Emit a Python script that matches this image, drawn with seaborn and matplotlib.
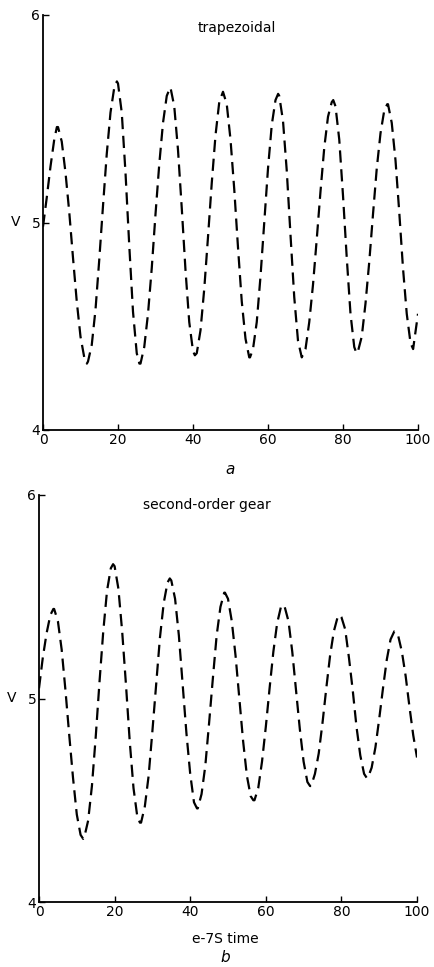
import matplotlib
matplotlib.use("Agg")
import matplotlib.pyplot as plt
import seaborn as sns
import pandas as pd

# ---- data ----
t_trap = [0, 1, 2, 3, 3.7, 4, 5, 6, 7, 8, 9, 10, 11, 11.7, 12, 13, 14, 15, 16, 17, 18, 19, 19.7,
          20, 21, 22, 23, 24, 25, 25.7, 26, 27, 28, 29, 30, 31, 32, 33, 33.9, 34, 35, 36, 37, 38,
          39, 40, 40.5, 41, 42, 43, 44, 45, 46, 47, 48, 49, 50, 51, 52, 53, 54, 55, 55.2, 56, 57,
          58, 59, 60, 61, 62, 62.7, 63, 64, 65, 66, 67, 68, 69, 70, 71, 72, 73, 74, 75, 76, 77,
          77.4, 78, 79, 80, 81, 82, 83, 83.6, 84, 85, 86, 87, 88, 89, 90, 91, 91.8, 92, 93, 94,
          95, 96, 97, 98, 98.7, 99, 100]
v_trap = [4.98, 5.12, 5.27, 5.40, 5.46, 5.46, 5.39, 5.24, 5.05, 4.83, 4.62, 4.45, 4.35, 4.32,
          4.33, 4.41, 4.58, 4.82, 5.08, 5.33, 5.53, 5.65, 5.68,
          5.67, 5.53, 5.24, 4.89, 4.57, 4.37, 4.32, 4.32, 4.40, 4.56, 4.78, 5.04, 5.28, 5.48,
          5.61, 5.65, 5.65, 5.56, 5.35, 5.07, 4.77,
          4.52, 4.38, 4.36, 4.37, 4.48, 4.68, 4.93, 5.19, 5.42, 5.58, 5.63, 5.57, 5.40, 5.16,
          4.88, 4.62, 4.44, 4.35, 4.35, 4.39, 4.52,
          4.74, 5.00, 5.26, 5.47, 5.59, 5.62, 5.61, 5.49, 5.25, 4.94, 4.64, 4.43, 4.35, 4.39,
          4.52, 4.70, 4.92, 5.15, 5.36, 5.51, 5.58,
          5.59, 5.56, 5.40, 5.13, 4.83, 4.56, 4.40, 4.37, 4.38, 4.45, 4.61, 4.81, 5.04, 5.26,
          5.43, 5.54, 5.57, 5.57, 5.48, 5.30,
          5.05, 4.78, 4.56, 4.42, 4.39, 4.43, 4.56]

t_gear = [0, 1, 2, 3, 3.8, 4, 5, 6, 7, 8, 9, 10, 11, 11.7, 12, 13, 14, 15, 16, 17, 18, 19, 19.6,
          20, 21, 22, 23, 24, 25, 26, 26.7, 27, 28, 29, 30, 31, 32, 33, 34, 34.6, 35, 36, 37, 38,
          39, 40, 41, 41.8, 42, 43, 44, 45, 46, 47, 48, 49, 49.2, 50, 51, 52, 53, 54, 55, 56,
          56.7, 57, 58, 59, 60, 61, 62, 63, 64, 64.6, 65, 66, 67, 68, 69, 70, 71, 71.7, 72, 73,
          74, 75, 76, 77, 78, 79, 79.6, 80, 81, 82, 83, 84, 85, 86, 86.7, 87, 88, 89, 90, 91,
          92, 93, 94, 94.2, 95, 96, 97, 98, 99, 100]
v_gear = [5.05, 5.20, 5.32, 5.41, 5.44, 5.44, 5.38, 5.24, 5.04, 4.82, 4.61, 4.43, 4.33, 4.31,
          4.32, 4.40, 4.57, 4.81, 5.08, 5.33, 5.53, 5.64, 5.66,
          5.65, 5.54, 5.33, 5.07, 4.79, 4.56, 4.42, 4.39, 4.39, 4.47, 4.62, 4.84, 5.07, 5.30,
          5.47, 5.57, 5.59, 5.58, 5.49, 5.31, 5.07,
          4.83, 4.63, 4.49, 4.46, 4.46, 4.53, 4.67, 4.88, 5.10, 5.31, 5.45, 5.52, 5.52, 5.49,
          5.38, 5.21, 5.00, 4.79, 4.62, 4.52,
          4.50, 4.50, 4.56, 4.69, 4.86, 5.05, 5.23, 5.37, 5.45, 5.46, 5.45, 5.38, 5.23, 5.04,
          4.85, 4.69, 4.59, 4.57, 4.57, 4.63,
          4.73, 4.88, 5.05, 5.21, 5.33, 5.40, 5.41, 5.40, 5.34, 5.20, 5.04, 4.86, 4.72, 4.63,
          4.61, 4.61, 4.66, 4.76, 4.90, 5.05,
          5.19, 5.29, 5.33, 5.33, 5.31, 5.23, 5.11, 4.96, 4.82, 4.71]

x_ticks = [0, 20, 40, 60, 80, 100]
y_ticks = [4, 5, 6]
titles = ["trapezoidal", "second-order gear"]

# ---- figure ----
sns.set_style("ticks")
plt.rcParams['font.family'] = ['DejaVu Sans']
plt.rcParams['text.color'] = 'black'
fig = plt.figure(figsize=(4.34, 9.67), dpi=100)

ax1 = fig.add_axes([43 / 434, 1 - 430 / 967, 375 / 434, 415 / 967])
ax2 = fig.add_axes([39 / 434, 1 - 902 / 967, 378 / 434, 407 / 967])

df1 = pd.DataFrame({"t": t_trap, "V": v_trap})
df2 = pd.DataFrame({"t": t_gear, "V": v_gear})

for ax, df, title, tx, ty in [(ax1, df1, titles[0], 0.517, 0.969),
                              (ax2, df2, titles[1], 0.444, 0.975)]:
    sns.lineplot(data=df, x="t", y="V", ax=ax, color="black", linewidth=1.6,
                 linestyle=(0, (5.5, 3)), sort=True)
    ax.set_xlim(0, 100)
    ax.set_ylim(4, 6)
    ax.set_xticks(x_ticks)
    ax.set_yticks(y_ticks)
    ax.tick_params(direction="in", length=4, width=1.0, labelsize=10, pad=2,
                   colors="black")
    for s in ["top", "right"]:
        ax.spines[s].set_visible(False)
    for s in ["left", "bottom"]:
        ax.spines[s].set_linewidth(1.3)
        ax.spines[s].set_color("black")
    ax.set_xlabel("")
    ax.set_ylabel("")
    ax.text(tx, ty, title, transform=ax.transAxes, ha="center", va="center",
            fontsize=10, color="black")
    ax.text(-0.072, 0.5, "V", transform=ax.transAxes, ha="center", va="center",
            fontsize=10, color="black")

fig.text(230 / 434, 1 - 470 / 967, "a", ha="center", va="center", fontsize=11,
         style="italic", color="black")
fig.text(225 / 434, 1 - 939 / 967, "e-7S time", ha="center", va="center", fontsize=10,
         color="black")
fig.text(225 / 434, 1 - 958 / 967, "b", ha="center", va="center", fontsize=11,
         style="italic", color="black")

fig.savefig("out.png", dpi=100, facecolor="white")
